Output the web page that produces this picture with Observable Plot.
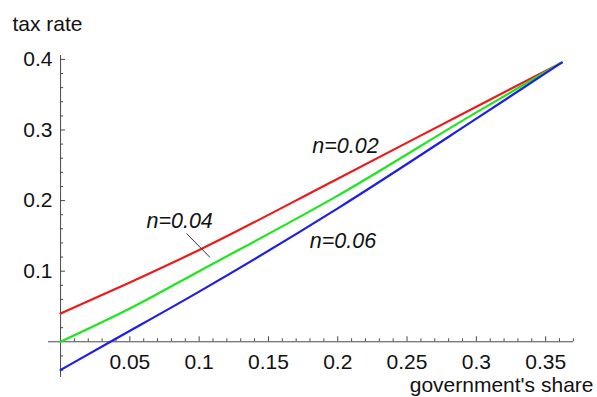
<!DOCTYPE html>
<html>
<head>
<meta charset="utf-8">
<script src="https://cdn.jsdelivr.net/npm/d3@7"></script>
<script src="https://cdn.jsdelivr.net/npm/@observablehq/plot@0.6"></script>
<style>
  html, body { margin: 0; padding: 0; background: #fff; }
  svg { display: block; }
</style>
</head>
<body>
<div id="chart"></div>
<script>
// government's share (x) and tax rate (y)
const xRed   = [0, 0.05, 0.1, 0.2, 0.3, 0.3616];
const yRed   = [0.040, 0.084, 0.130, 0.231, 0.333, 0.3955];
const xGreen = [0, 0.05, 0.1, 0.2, 0.3, 0.3616];
const yGreen = [0, 0.047, 0.100, 0.207, 0.325, 0.3955];
const xBlue  = [0, 0.036, 0.1, 0.2, 0.3, 0.3616];
const yBlue  = [-0.040, 0, 0.071, 0.189, 0.316, 0.3955];

const seriesNames  = ["n=0.02", "n=0.04", "n=0.06"];
const seriesColors = ["#ee1a1a", "#1ee61e", "#1e1eea"];

// tick labels
const xMajor = [0.05, 0.1, 0.15, 0.2, 0.25, 0.3, 0.35];
const yMajor = [0.1, 0.2, 0.3, 0.4];
const xMinor = d3.range(1, 38).map(i => i / 100).filter(v => !xMajor.some(m => Math.abs(m - v) < 1e-9));
const yMinor = d3.range(-2, 21).map(i => i / 50).filter(v => v !== 0 && !yMajor.some(m => Math.abs(m - v) < 1e-9));

// curve labels (position in data units) and the leader line for n=0.04
const labelNames = ["n=0.02", "n=0.04", "n=0.06"];
const labelX = [0.2056, 0.0859, 0.2038];
const labelY = [0.2766, 0.1704, 0.142];
const leader = [{x1: 0.0909, y1: 0.1534, x2: 0.1077, y2: 0.1198}];

const rows = [];
[[xRed, yRed], [xGreen, yGreen], [xBlue, yBlue]].forEach(([xs, ys], k) => {
  xs.forEach((x, i) => rows.push({series: seriesNames[k], x, y: ys[i]}));
});
const labels = labelNames.map((t, i) => ({t, x: labelX[i], y: labelY[i]}));

const axisColor = "#4a4a4a";
const majX = 0.0071, minX = 0.0042;   // tick lengths in y units
const majY = 0.0036, minY = 0.0022;   // tick lengths in x units

const chart = Plot.plot({
  width: 597,
  height: 397,
  marginLeft: 48,
  marginRight: 24,
  marginTop: 55,
  marginBottom: 20,
  x: {domain: [-0.0087, 0.3701], axis: null},
  y: {domain: [-0.0506, 0.4055], axis: null},
  color: {domain: seriesNames, range: seriesColors},
  style: {fontFamily: "'Liberation Sans', Arial, sans-serif", fontSize: "21px", background: "#fff", color: "#111"},
  marks: [
    Plot.ruleY([0], {stroke: axisColor, strokeWidth: 1}),
    Plot.ruleX([0], {stroke: axisColor, strokeWidth: 1}),
    Plot.ruleX(xMajor, {x: d => d, y1: 0, y2: majX, stroke: axisColor}),
    Plot.ruleX(xMinor, {x: d => d, y1: 0, y2: minX, stroke: axisColor}),
    Plot.ruleY(yMajor, {y: d => d, x1: 0, x2: majY, stroke: axisColor}),
    Plot.ruleY(yMinor, {y: d => d, x1: 0, x2: minY, stroke: axisColor}),
    Plot.text(xMajor, {x: d => d, y: 0, text: d => String(d), dy: 27, lineAnchor: "bottom", fill: "#111"}),
    Plot.text(yMajor, {x: 0, y: d => d, text: d => String(d), dx: -8, textAnchor: "end", fill: "#111"}),
    Plot.line(rows, {x: "x", y: "y", z: "series", stroke: "series", strokeWidth: 2.2, curve: "monotone-x"}),
    Plot.link(leader, {x1: "x1", y1: "y1", x2: "x2", y2: "y2", stroke: "#333", strokeWidth: 1}),
    Plot.text(labels, {x: "x", y: "y", text: "t", fontStyle: "italic", fontSize: 21.5, fill: "#111"}),
    Plot.text(["tax rate"], {frameAnchor: "top-left", text: d => d, textAnchor: "start", lineAnchor: "bottom", dx: -36, dy: -25, fill: "#111"}),
    Plot.text(["government's share"], {frameAnchor: "bottom-right", text: d => d, textAnchor: "end", lineAnchor: "bottom", dx: 20, dy: 14, fill: "#111"})
  ]
});
document.getElementById("chart").appendChild(chart);
</script>
</body>
</html>
